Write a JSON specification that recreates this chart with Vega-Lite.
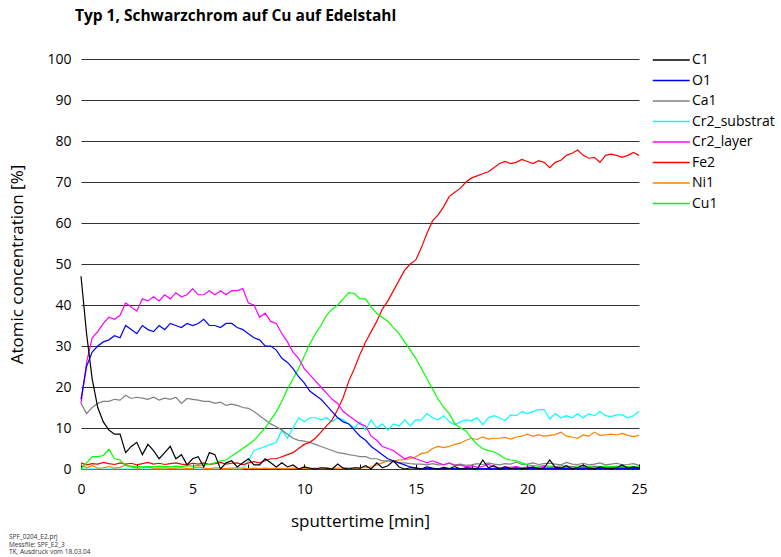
{
 "$schema": "https://vega.github.io/schema/vega-lite/v6.json",
 "padding": {"left": 8, "top": 8, "right": 0, "bottom": 0},
 "background": "white",
 "config": {"font": "Open Sans", "view": {"stroke": null}},
 "title": {"text": "Typ 1, Schwarzchrom auf Cu auf Edelstahl", "anchor": "start", "frame": "bounds", "fontSize": 15.5, "fontWeight": "bold", "font": "Open Sans", "dx": 66, "offset": 26, "color": "black"},
 "resolve": {"legend": {"color": "independent"}},
 "vconcat": [{
  "width": 558,
  "height": 410,
  "data": {"values": [
   {"t":0,"C1":47,"O1":17,"Ca1":16,"Cr2_substrat":0,"Cr2_layer":16,"Fe2":1.5,"Ni1":1,"Cu1":0},
   {"t":0.25,"C1":33,"O1":25,"Ca1":13.5,"Cr2_substrat":0,"Cr2_layer":26,"Fe2":1,"Ni1":0.3,"Cu1":1.5},
   {"t":0.5,"C1":22,"O1":28.5,"Ca1":15,"Cr2_substrat":0,"Cr2_layer":32,"Fe2":1.3,"Ni1":0.8,"Cu1":3},
   {"t":0.75,"C1":15,"O1":30,"Ca1":16,"Cr2_substrat":0,"Cr2_layer":33.5,"Fe2":1.2,"Ni1":0.2,"Cu1":3},
   {"t":1,"C1":11.5,"O1":31,"Ca1":16.5,"Cr2_substrat":0,"Cr2_layer":35.5,"Fe2":1.6,"Ni1":0.3,"Cu1":3.3},
   {"t":1.25,"C1":9.5,"O1":31.5,"Ca1":16.5,"Cr2_substrat":0,"Cr2_layer":37,"Fe2":1.3,"Ni1":0.6,"Cu1":4.8},
   {"t":1.5,"C1":8.5,"O1":32.5,"Ca1":17,"Cr2_substrat":0,"Cr2_layer":36.5,"Fe2":1.1,"Ni1":0.2,"Cu1":2.5},
   {"t":1.75,"C1":8.5,"O1":32,"Ca1":16.8,"Cr2_substrat":0,"Cr2_layer":37.5,"Fe2":1.5,"Ni1":0.4,"Cu1":2.2},
   {"t":2,"C1":4,"O1":35,"Ca1":18,"Cr2_substrat":0,"Cr2_layer":40.5,"Fe2":1.2,"Ni1":1,"Cu1":0.8},
   {"t":2.25,"C1":5.5,"O1":34,"Ca1":17.2,"Cr2_substrat":0,"Cr2_layer":39.5,"Fe2":1.4,"Ni1":0.5,"Cu1":0.7},
   {"t":2.5,"C1":6.5,"O1":33,"Ca1":17.5,"Cr2_substrat":0,"Cr2_layer":38.5,"Fe2":1,"Ni1":0.2,"Cu1":0.6},
   {"t":2.75,"C1":3.5,"O1":35,"Ca1":17.3,"Cr2_substrat":0,"Cr2_layer":41.5,"Fe2":1.3,"Ni1":0.3,"Cu1":0.5},
   {"t":3,"C1":6,"O1":34,"Ca1":17,"Cr2_substrat":0,"Cr2_layer":41,"Fe2":1.6,"Ni1":0.5,"Cu1":0.6},
   {"t":3.25,"C1":4.5,"O1":33.5,"Ca1":17.5,"Cr2_substrat":0,"Cr2_layer":42,"Fe2":1.2,"Ni1":0.2,"Cu1":0.5},
   {"t":3.5,"C1":2.5,"O1":35,"Ca1":16.8,"Cr2_substrat":0,"Cr2_layer":41,"Fe2":1.4,"Ni1":0.2,"Cu1":0.7},
   {"t":3.75,"C1":4,"O1":34,"Ca1":17.3,"Cr2_substrat":0,"Cr2_layer":42.5,"Fe2":1.1,"Ni1":0.3,"Cu1":0.6},
   {"t":4,"C1":5.5,"O1":35.5,"Ca1":17,"Cr2_substrat":0,"Cr2_layer":41.5,"Fe2":1.3,"Ni1":0.1,"Cu1":0.5},
   {"t":4.25,"C1":2.5,"O1":35,"Ca1":17.5,"Cr2_substrat":0,"Cr2_layer":43,"Fe2":1.5,"Ni1":0.2,"Cu1":0.7},
   {"t":4.5,"C1":3.5,"O1":34.5,"Ca1":16,"Cr2_substrat":0,"Cr2_layer":42,"Fe2":1.2,"Ni1":0.3,"Cu1":0.6},
   {"t":4.75,"C1":1,"O1":35.5,"Ca1":17.2,"Cr2_substrat":0,"Cr2_layer":42.5,"Fe2":1,"Ni1":0.1,"Cu1":0.8},
   {"t":5,"C1":2.5,"O1":35,"Ca1":17,"Cr2_substrat":0,"Cr2_layer":44,"Fe2":1.4,"Ni1":0.2,"Cu1":0.7},
   {"t":5.25,"C1":3,"O1":35.5,"Ca1":16.8,"Cr2_substrat":0,"Cr2_layer":42.5,"Fe2":1.2,"Ni1":0.5,"Cu1":0.9},
   {"t":5.5,"C1":0.5,"O1":36.5,"Ca1":16.5,"Cr2_substrat":0,"Cr2_layer":42.5,"Fe2":1.5,"Ni1":0.2,"Cu1":1},
   {"t":5.75,"C1":4,"O1":35,"Ca1":16.5,"Cr2_substrat":0,"Cr2_layer":43.5,"Fe2":1.1,"Ni1":0.1,"Cu1":1.2},
   {"t":6,"C1":3.5,"O1":35,"Ca1":16,"Cr2_substrat":0,"Cr2_layer":42.5,"Fe2":1.3,"Ni1":0.3,"Cu1":1.5},
   {"t":6.25,"C1":0,"O1":34.5,"Ca1":16.3,"Cr2_substrat":0,"Cr2_layer":43.5,"Fe2":1.6,"Ni1":0.2,"Cu1":2},
   {"t":6.5,"C1":1.5,"O1":35.5,"Ca1":15.5,"Cr2_substrat":0,"Cr2_layer":42.5,"Fe2":1.2,"Ni1":0.1,"Cu1":2.2},
   {"t":6.75,"C1":2,"O1":35.5,"Ca1":15.8,"Cr2_substrat":0,"Cr2_layer":43.5,"Fe2":1.4,"Ni1":0.2,"Cu1":3.2},
   {"t":7,"C1":0.5,"O1":34.5,"Ca1":15.5,"Cr2_substrat":0,"Cr2_layer":43.5,"Fe2":1.5,"Ni1":0.3,"Cu1":4},
   {"t":7.25,"C1":1.5,"O1":34,"Ca1":15,"Cr2_substrat":0,"Cr2_layer":44,"Fe2":1,"Ni1":0.2,"Cu1":5},
   {"t":7.5,"C1":2.5,"O1":33,"Ca1":14.8,"Cr2_substrat":2,"Cr2_layer":40.5,"Fe2":1.5,"Ni1":0.1,"Cu1":6},
   {"t":7.75,"C1":1,"O1":32,"Ca1":14,"Cr2_substrat":4.5,"Cr2_layer":40,"Fe2":1.8,"Ni1":0.2,"Cu1":7},
   {"t":8,"C1":1,"O1":31.5,"Ca1":13,"Cr2_substrat":5,"Cr2_layer":37,"Fe2":1.5,"Ni1":0.1,"Cu1":8.5},
   {"t":8.25,"C1":2.5,"O1":30,"Ca1":12,"Cr2_substrat":5.5,"Cr2_layer":38,"Fe2":2,"Ni1":0.2,"Cu1":10},
   {"t":8.5,"C1":1.5,"O1":30,"Ca1":11,"Cr2_substrat":6,"Cr2_layer":36,"Fe2":2.5,"Ni1":0.1,"Cu1":12},
   {"t":8.75,"C1":0.5,"O1":29,"Ca1":10.3,"Cr2_substrat":6.5,"Cr2_layer":35.5,"Fe2":2.5,"Ni1":0.2,"Cu1":14},
   {"t":9,"C1":1.5,"O1":27,"Ca1":9.5,"Cr2_substrat":9.5,"Cr2_layer":33,"Fe2":3,"Ni1":0.1,"Cu1":16.5},
   {"t":9.25,"C1":0.5,"O1":26,"Ca1":8.5,"Cr2_substrat":7.5,"Cr2_layer":31,"Fe2":3.5,"Ni1":0.1,"Cu1":19.5},
   {"t":9.5,"C1":1,"O1":24.5,"Ca1":7.5,"Cr2_substrat":10,"Cr2_layer":28.5,"Fe2":4,"Ni1":0.2,"Cu1":22},
   {"t":9.75,"C1":0,"O1":22.5,"Ca1":7,"Cr2_substrat":12.5,"Cr2_layer":27,"Fe2":5,"Ni1":0.1,"Cu1":24.5},
   {"t":10,"C1":0.5,"O1":21,"Ca1":6.8,"Cr2_substrat":11.5,"Cr2_layer":24.5,"Fe2":6,"Ni1":0.2,"Cu1":27.5},
   {"t":10.25,"C1":0.2,"O1":19,"Ca1":6.5,"Cr2_substrat":12.5,"Cr2_layer":23,"Fe2":6.5,"Ni1":0.1,"Cu1":30.5},
   {"t":10.5,"C1":0,"O1":18,"Ca1":6,"Cr2_substrat":12.5,"Cr2_layer":21.5,"Fe2":7.5,"Ni1":0.2,"Cu1":33},
   {"t":10.75,"C1":0.3,"O1":17,"Ca1":5.5,"Cr2_substrat":12,"Cr2_layer":20,"Fe2":9,"Ni1":0.1,"Cu1":35},
   {"t":11,"C1":0.2,"O1":15.5,"Ca1":5,"Cr2_substrat":12.5,"Cr2_layer":18.5,"Fe2":10.5,"Ni1":0.2,"Cu1":37.5},
   {"t":11.25,"C1":0,"O1":14,"Ca1":4.5,"Cr2_substrat":11.5,"Cr2_layer":17,"Fe2":12,"Ni1":0.1,"Cu1":39},
   {"t":11.5,"C1":1.2,"O1":12.5,"Ca1":4,"Cr2_substrat":12.5,"Cr2_layer":16,"Fe2":14.5,"Ni1":0.2,"Cu1":40},
   {"t":11.75,"C1":0.2,"O1":11.5,"Ca1":3.8,"Cr2_substrat":12,"Cr2_layer":14,"Fe2":17.5,"Ni1":0.2,"Cu1":41.5},
   {"t":12,"C1":0,"O1":11,"Ca1":3.5,"Cr2_substrat":11,"Cr2_layer":13,"Fe2":21.5,"Ni1":0.3,"Cu1":43},
   {"t":12.25,"C1":0.3,"O1":9.5,"Ca1":3.3,"Cr2_substrat":10,"Cr2_layer":12,"Fe2":24.5,"Ni1":0.2,"Cu1":42.8},
   {"t":12.5,"C1":0.2,"O1":8,"Ca1":3,"Cr2_substrat":11.5,"Cr2_layer":11,"Fe2":28,"Ni1":0.3,"Cu1":41.5},
   {"t":12.75,"C1":0.8,"O1":7,"Ca1":3,"Cr2_substrat":9.5,"Cr2_layer":10.5,"Fe2":31,"Ni1":0.3,"Cu1":41.5},
   {"t":13,"C1":0,"O1":5.5,"Ca1":2.5,"Cr2_substrat":12,"Cr2_layer":8,"Fe2":33.5,"Ni1":0.5,"Cu1":39.5},
   {"t":13.25,"C1":1.5,"O1":4.5,"Ca1":2.5,"Cr2_substrat":10,"Cr2_layer":7,"Fe2":36,"Ni1":1,"Cu1":38},
   {"t":13.5,"C1":0.3,"O1":3.5,"Ca1":2,"Cr2_substrat":11,"Cr2_layer":5.5,"Fe2":39,"Ni1":1.5,"Cu1":37},
   {"t":13.75,"C1":0.8,"O1":2.5,"Ca1":2,"Cr2_substrat":9.5,"Cr2_layer":5,"Fe2":41,"Ni1":2,"Cu1":36},
   {"t":14,"C1":2,"O1":2,"Ca1":1.8,"Cr2_substrat":11,"Cr2_layer":4.5,"Fe2":43.5,"Ni1":2,"Cu1":34.5},
   {"t":14.25,"C1":0.5,"O1":1.5,"Ca1":1.5,"Cr2_substrat":10.5,"Cr2_layer":3.5,"Fe2":46,"Ni1":2.2,"Cu1":33},
   {"t":14.5,"C1":0,"O1":1,"Ca1":1.5,"Cr2_substrat":12,"Cr2_layer":2.5,"Fe2":48.5,"Ni1":2.3,"Cu1":31},
   {"t":14.75,"C1":0.3,"O1":0.5,"Ca1":1.3,"Cr2_substrat":10.5,"Cr2_layer":3,"Fe2":50,"Ni1":2.5,"Cu1":29},
   {"t":15,"C1":0.2,"O1":0.2,"Ca1":1.2,"Cr2_substrat":12,"Cr2_layer":2.5,"Fe2":51,"Ni1":3,"Cu1":27},
   {"t":15.25,"C1":0,"O1":0.1,"Ca1":1.2,"Cr2_substrat":12,"Cr2_layer":2,"Fe2":54,"Ni1":3.8,"Cu1":24.5},
   {"t":15.5,"C1":0.5,"O1":0.1,"Ca1":1,"Cr2_substrat":13.5,"Cr2_layer":1.5,"Fe2":57.5,"Ni1":4,"Cu1":22},
   {"t":15.75,"C1":0.2,"O1":0.1,"Ca1":1.3,"Cr2_substrat":12.5,"Cr2_layer":2,"Fe2":60.5,"Ni1":5,"Cu1":19.5},
   {"t":16,"C1":0,"O1":0.1,"Ca1":1,"Cr2_substrat":12,"Cr2_layer":1.5,"Fe2":62,"Ni1":5.5,"Cu1":17},
   {"t":16.25,"C1":0.4,"O1":0.1,"Ca1":1.1,"Cr2_substrat":13,"Cr2_layer":1,"Fe2":64,"Ni1":5.2,"Cu1":15},
   {"t":16.5,"C1":0.1,"O1":0.1,"Ca1":1.4,"Cr2_substrat":11.5,"Cr2_layer":1.5,"Fe2":66.5,"Ni1":5.5,"Cu1":13.5},
   {"t":16.75,"C1":0.6,"O1":0.1,"Ca1":1,"Cr2_substrat":10.8,"Cr2_layer":0.8,"Fe2":67.5,"Ni1":6,"Cu1":11},
   {"t":17,"C1":0,"O1":0.1,"Ca1":1.2,"Cr2_substrat":11.5,"Cr2_layer":1,"Fe2":68.5,"Ni1":6.3,"Cu1":10},
   {"t":17.25,"C1":0.3,"O1":0.1,"Ca1":0.9,"Cr2_substrat":12,"Cr2_layer":0.5,"Fe2":70,"Ni1":7,"Cu1":9.3},
   {"t":17.5,"C1":0.2,"O1":0.1,"Ca1":1,"Cr2_substrat":11.8,"Cr2_layer":0.8,"Fe2":71,"Ni1":7.5,"Cu1":7.5},
   {"t":17.75,"C1":0,"O1":0.1,"Ca1":1.3,"Cr2_substrat":12.5,"Cr2_layer":0.4,"Fe2":71.5,"Ni1":7.2,"Cu1":6},
   {"t":18,"C1":2.2,"O1":0.1,"Ca1":1.1,"Cr2_substrat":10.8,"Cr2_layer":0.6,"Fe2":72,"Ni1":7.8,"Cu1":5},
   {"t":18.25,"C1":0.3,"O1":0.1,"Ca1":1.5,"Cr2_substrat":12.5,"Cr2_layer":1.2,"Fe2":72.5,"Ni1":7.3,"Cu1":4.5},
   {"t":18.5,"C1":0.8,"O1":0.1,"Ca1":1.2,"Cr2_substrat":13,"Cr2_layer":0.5,"Fe2":73.5,"Ni1":7.5,"Cu1":4.2},
   {"t":18.75,"C1":0,"O1":0.1,"Ca1":1,"Cr2_substrat":12.5,"Cr2_layer":0.3,"Fe2":74.5,"Ni1":7.5,"Cu1":3.5},
   {"t":19,"C1":0.5,"O1":0.1,"Ca1":1.3,"Cr2_substrat":11.8,"Cr2_layer":0.5,"Fe2":75,"Ni1":7.7,"Cu1":2.5},
   {"t":19.25,"C1":0.1,"O1":0.1,"Ca1":1.2,"Cr2_substrat":13.2,"Cr2_layer":0.4,"Fe2":74.5,"Ni1":7.3,"Cu1":2.2},
   {"t":19.5,"C1":0.3,"O1":0.1,"Ca1":1.7,"Cr2_substrat":13,"Cr2_layer":0.6,"Fe2":74.8,"Ni1":7.8,"Cu1":2},
   {"t":19.75,"C1":0,"O1":0.1,"Ca1":1.1,"Cr2_substrat":14,"Cr2_layer":0.3,"Fe2":75.5,"Ni1":8,"Cu1":1.5},
   {"t":20,"C1":0.2,"O1":0.1,"Ca1":1.2,"Cr2_substrat":13.5,"Cr2_layer":0.5,"Fe2":75,"Ni1":8.5,"Cu1":1},
   {"t":20.25,"C1":0.5,"O1":0.1,"Ca1":1.5,"Cr2_substrat":14,"Cr2_layer":0.3,"Fe2":74.5,"Ni1":8,"Cu1":0.8},
   {"t":20.5,"C1":0,"O1":0.1,"Ca1":1.1,"Cr2_substrat":14.5,"Cr2_layer":0.4,"Fe2":75.2,"Ni1":8.3,"Cu1":0.7},
   {"t":20.75,"C1":0.3,"O1":0.1,"Ca1":1.3,"Cr2_substrat":14.5,"Cr2_layer":0.6,"Fe2":74.8,"Ni1":8,"Cu1":0.8},
   {"t":21,"C1":2.2,"O1":0.1,"Ca1":1.4,"Cr2_substrat":12.2,"Cr2_layer":0.3,"Fe2":73.5,"Ni1":8.2,"Cu1":0.7},
   {"t":21.25,"C1":0.4,"O1":0.1,"Ca1":1.2,"Cr2_substrat":13.5,"Cr2_layer":0.5,"Fe2":74.8,"Ni1":8.4,"Cu1":0.6},
   {"t":21.5,"C1":0.2,"O1":0.1,"Ca1":1,"Cr2_substrat":12.5,"Cr2_layer":0.4,"Fe2":75.3,"Ni1":9,"Cu1":0.8},
   {"t":21.75,"C1":0.8,"O1":0.1,"Ca1":1.6,"Cr2_substrat":13,"Cr2_layer":0.3,"Fe2":76.5,"Ni1":8,"Cu1":0.7},
   {"t":22,"C1":0,"O1":0.1,"Ca1":1.2,"Cr2_substrat":12.5,"Cr2_layer":0.5,"Fe2":77,"Ni1":7.8,"Cu1":0.6},
   {"t":22.25,"C1":0.3,"O1":0.1,"Ca1":1.1,"Cr2_substrat":13.5,"Cr2_layer":0.3,"Fe2":77.8,"Ni1":7.5,"Cu1":0.7},
   {"t":22.5,"C1":1,"O1":0.1,"Ca1":1.4,"Cr2_substrat":12.5,"Cr2_layer":0.4,"Fe2":76.5,"Ni1":8.3,"Cu1":0.8},
   {"t":22.75,"C1":0.2,"O1":0.1,"Ca1":1,"Cr2_substrat":13.5,"Cr2_layer":0.3,"Fe2":75.8,"Ni1":8,"Cu1":0.6},
   {"t":23,"C1":0,"O1":0.1,"Ca1":1.2,"Cr2_substrat":13,"Cr2_layer":0.5,"Fe2":76,"Ni1":9,"Cu1":0.7},
   {"t":23.25,"C1":0.5,"O1":0.1,"Ca1":1.5,"Cr2_substrat":14,"Cr2_layer":0.3,"Fe2":74.8,"Ni1":8.2,"Cu1":0.6},
   {"t":23.5,"C1":0.2,"O1":0.1,"Ca1":1,"Cr2_substrat":13,"Cr2_layer":0.3,"Fe2":76.5,"Ni1":8.3,"Cu1":0.7},
   {"t":23.75,"C1":0,"O1":0.1,"Ca1":1.2,"Cr2_substrat":12.8,"Cr2_layer":0.4,"Fe2":76.8,"Ni1":8.5,"Cu1":0.6},
   {"t":24,"C1":0.3,"O1":0.1,"Ca1":1.4,"Cr2_substrat":13.2,"Cr2_layer":0.3,"Fe2":76.5,"Ni1":8.3,"Cu1":0.7},
   {"t":24.25,"C1":1,"O1":0.1,"Ca1":1,"Cr2_substrat":13.2,"Cr2_layer":0.4,"Fe2":76,"Ni1":8.7,"Cu1":0.6},
   {"t":24.5,"C1":0.2,"O1":0.1,"Ca1":1.1,"Cr2_substrat":12.5,"Cr2_layer":0.3,"Fe2":76.5,"Ni1":8.2,"Cu1":0.6},
   {"t":24.75,"C1":0.5,"O1":0.1,"Ca1":1.3,"Cr2_substrat":13,"Cr2_layer":0.3,"Fe2":77.2,"Ni1":7.9,"Cu1":0.5},
   {"t":25,"C1":0.3,"O1":0.1,"Ca1":0.9,"Cr2_substrat":14,"Cr2_layer":0.3,"Fe2":76.5,"Ni1":8.2,"Cu1":0.5}
  ]},
  "transform": [{"fold": ["Cr2_substrat", "Ni1", "Ca1", "Fe2", "Cu1", "Cr2_layer", "O1", "C1"], "as": ["series", "value"]}],
  "mark": {"type": "line", "strokeWidth": 1.2},
  "encoding": {
   "x": {"field": "t", "type": "quantitative", "scale": {"domain": [0, 25], "nice": false},
     "axis": {"values": [0, 2.5, 5, 7.5, 10, 12.5, 15, 17.5, 20, 22.5, 25], "labelExpr": "datum.value % 5 === 0 ? datum.label : ''",
       "tickSize": -5, "tickColor": "black", "domainColor": "#333", "labelFontSize": 14, "labelColor": "black", "labelPadding": 18, "labelFlush": false,
       "grid": false, "title": "sputtertime [min]", "titleFontSize": 17, "titleFontWeight": "normal", "titleColor": "black", "titlePadding": 17}},
   "y": {"field": "value", "type": "quantitative", "scale": {"domain": [0, 100], "nice": false},
     "axis": {"values": [0, 10, 20, 30, 40, 50, 60, 70, 80, 90, 100], "grid": true, "gridColor": "#333", "gridWidth": 1, "domain": false, "ticks": false,
       "labelPadding": 10, "labelFontSize": 14, "labelColor": "black", "title": "Atomic concentration [%]", "titleFontSize": 17, "titleFontWeight": "normal", "titleColor": "black", "titlePadding": 20}},
   "color": {"field": "series", "type": "nominal",
     "scale": {"domain": ["C1", "O1", "Ca1", "Cr2_substrat", "Cr2_layer", "Fe2", "Ni1", "Cu1"],
               "range": ["#000000", "#0000ff", "#808080", "#00ffff", "#ff00ff", "#ff0000", "#ff8000", "#00ff00"]},
     "legend": {"title": null, "orient": "none", "legendX": 571, "legendY": -9, "symbolType": "M-1,0H3", "symbolSize": 342, "symbolStrokeWidth": 1.5,
       "labelFontSize": 14, "labelColor": "black", "labelOffset": 20, "rowPadding": 3.5}}
  },
  "title": {"text": ["SPF_0204_E2.prj", "Messfile: SPF_E2_3", "TK, Ausdruck vom 18.03.04"], "orient": "bottom", "anchor": "start", "frame": "bounds",
    "fontSize": 6.5, "fontWeight": "normal", "lineHeight": 7.5, "color": "#333", "offset": 5}
 }]
}
